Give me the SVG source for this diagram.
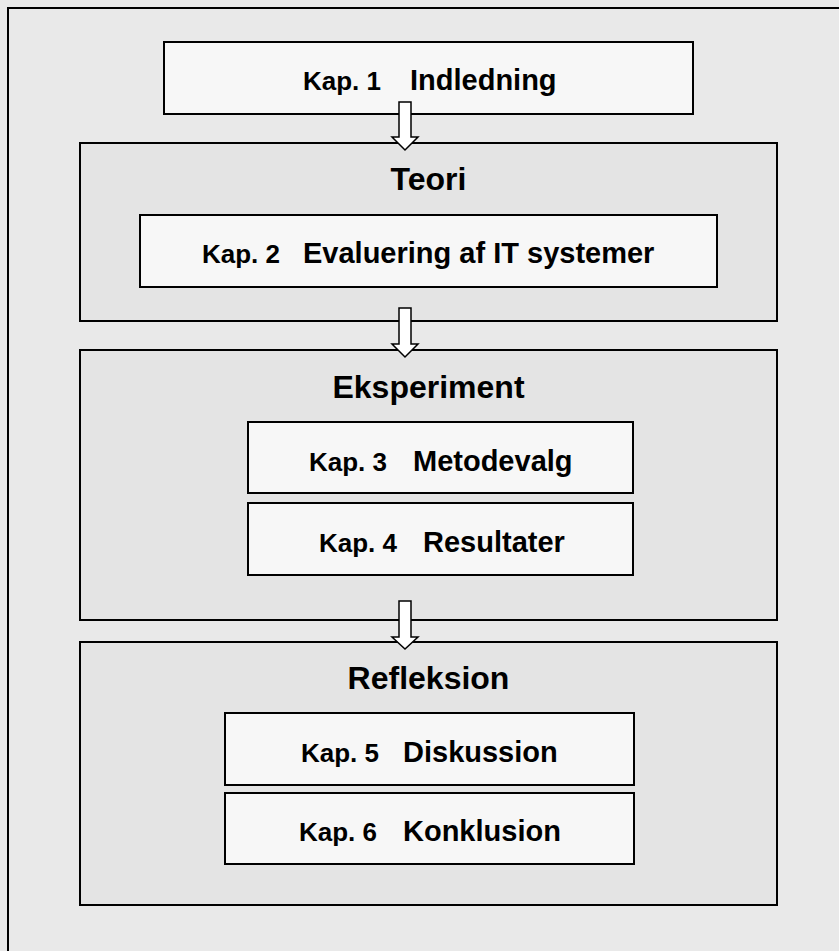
<svg xmlns="http://www.w3.org/2000/svg" width="839" height="951" viewBox="0 0 839 951">
<style>
.frame{fill:#e9e9e9;stroke:#000;stroke-width:2}
.sec{fill:#e4e4e4;stroke:#000;stroke-width:2}
.box{fill:#f7f7f7;stroke:#000;stroke-width:2}
.arrow{fill:#fff;stroke:#000;stroke-width:1.5;stroke-linejoin:miter}
text{font-family:"Liberation Sans",Arial,sans-serif;font-weight:bold;fill:#000}
.kap{font-size:26px}
.name{font-size:29px}
.head{font-size:32px;text-anchor:middle}
</style>
<rect x="0" y="0" width="839" height="951" fill="#e9e9e9"/>
<rect class="frame" x="8" y="8" width="840" height="960"/>
<g id="kap1">
<rect class="box" x="164" y="42" width="529" height="72"/>
<text class="kap" x="303" y="90">Kap. 1</text>
<text class="name" x="410" y="90">Indledning</text>
</g>
<g id="teori">
<rect class="sec" x="80" y="143" width="697" height="178"/>
<text class="head" x="428.5" y="190">Teori</text>
</g>
<g id="kap2">
<rect class="box" x="140" y="215" width="577" height="72"/>
<text class="kap" x="202" y="263">Kap. 2</text>
<text class="name" x="303" y="263">Evaluering af IT systemer</text>
</g>
<g id="eksperiment">
<rect class="sec" x="80" y="350" width="697" height="270"/>
<text class="head" x="428.5" y="398">Eksperiment</text>
</g>
<g id="kap3">
<rect class="box" x="248" y="422" width="385" height="71"/>
<text class="kap" x="309" y="471">Kap. 3</text>
<text class="name" x="413" y="471">Metodevalg</text>
</g>
<g id="kap4">
<rect class="box" x="248" y="503" width="385" height="72"/>
<text class="kap" x="319" y="552">Kap. 4</text>
<text class="name" x="423" y="552">Resultater</text>
</g>
<g id="refleksion">
<rect class="sec" x="80" y="642" width="697" height="263"/>
<text class="head" x="428.5" y="689">Refleksion</text>
</g>
<g id="kap5">
<rect class="box" x="225" y="713" width="409" height="72"/>
<text class="kap" x="301" y="762">Kap. 5</text>
<text class="name" x="403" y="762">Diskussion</text>
</g>
<g id="kap6">
<rect class="box" x="225" y="793" width="409" height="71"/>
<text class="kap" x="299" y="841">Kap. 6</text>
<text class="name" x="403" y="841">Konklusion</text>
</g>
<g id="connectors">
<polygon class="arrow" points="399,102 411,102 411,137 418,137 405,150 392,137 399,137"/>
<polygon class="arrow" points="399,308 411,308 411,344 418,344 405,357 392,344 399,344"/>
<polygon class="arrow" points="399,601 411,601 411,637 418,637 405,649 392,637 399,637"/>
</g>
</svg>
